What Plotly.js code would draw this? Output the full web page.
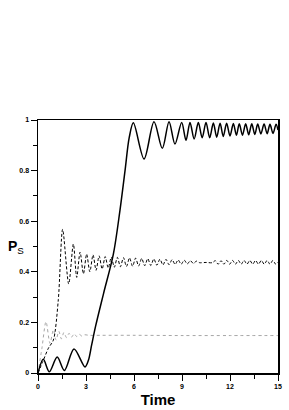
<!DOCTYPE html>
<html>
<head>
<meta charset="utf-8">
<script src="https://cdn.plot.ly/plotly-3.0.1.min.js"></script>
<style>html,body{margin:0;padding:0;background:#fff;}#chart{width:289px;height:410px;}</style>
</head>
<body>
<div id="chart"></div>
<script>
// Solid curve (extrema)
var solidT = [0, 0.33, 0.71, 1.2, 1.65, 2.25, 2.94, 3.15, 3.35, 3.6, 4.1, 4.71, 5.125, 5.44, 5.7, 5.96, 6.63, 7.25, 7.77, 8.19, 8.56, 8.98, 9.25, 9.5, 9.76, 10.02, 10.26, 10.5, 10.73, 10.96, 11.17, 11.38, 11.58, 11.79, 12.0, 12.21, 12.4, 12.58, 12.78, 12.98, 13.17, 13.36, 13.55, 13.73, 13.93, 14.13, 14.32, 14.5, 14.69, 14.88, 15];
var solidP = [0, 0.054, 0.005, 0.063, 0.01, 0.095, 0.024, 0.05, 0.11, 0.185, 0.315, 0.47, 0.644, 0.8, 0.93, 0.989, 0.846, 0.993, 0.888, 0.993, 0.905, 0.99, 0.92, 0.99, 0.925, 0.99, 0.93, 0.99, 0.93, 0.988, 0.932, 0.987, 0.935, 0.987, 0.937, 0.986, 0.94, 0.985, 0.94, 0.985, 0.942, 0.985, 0.943, 0.984, 0.945, 0.984, 0.946, 0.983, 0.947, 0.983, 0.96];

// Dashed curve
var dashT = [0, 0.3, 0.65, 0.96, 1.27, 1.54, 1.92, 2.21, 2.42, 2.63, 2.84, 3.04, 3.24, 3.44, 3.63, 3.82, 4.01, 4.2, 4.39, 4.58, 4.77, 4.96, 5.15, 5.34, 5.53, 5.72, 5.91, 6.1, 6.29, 6.48, 6.67, 6.86, 7.05, 7.24, 7.43, 7.62, 7.81, 8.0, 8.19, 8.38, 8.57, 8.76, 8.95, 9.14, 9.33, 9.52, 9.71, 9.9, 10.1, 10.5, 10.9, 11.08, 11.26, 11.44, 11.62, 11.8, 11.98, 12.16, 12.34, 12.52, 12.7, 12.88, 13.06, 13.24, 13.42, 13.6, 13.78, 13.96, 14.14, 14.32, 14.5, 14.68, 14.86, 15];
var dashP = [0, 0.045, 0.098, 0.13, 0.29, 0.568, 0.352, 0.51, 0.378, 0.478, 0.392, 0.47, 0.40, 0.467, 0.406, 0.463, 0.411, 0.46, 0.415, 0.458, 0.418, 0.457, 0.42, 0.456, 0.421, 0.455, 0.422, 0.454, 0.423, 0.453, 0.424, 0.452, 0.425, 0.451, 0.426, 0.45, 0.427, 0.449, 0.428, 0.448, 0.429, 0.447, 0.43, 0.446, 0.431, 0.444, 0.433, 0.442, 0.436, 0.437, 0.436, 0.444, 0.43, 0.444, 0.43, 0.445, 0.43, 0.445, 0.43, 0.445, 0.43, 0.445, 0.43, 0.445, 0.43, 0.445, 0.43, 0.445, 0.43, 0.445, 0.43, 0.445, 0.43, 0.438];

// Gray dotted curve
var dotT = [0, 0.25, 0.5, 0.75, 0.96, 1.13, 1.3, 1.46, 1.62, 1.78, 1.94, 2.1, 2.26, 2.42, 2.58, 2.74, 2.9, 3.2, 4, 6, 9, 12, 15];
var dotP = [0, 0.1, 0.203, 0.117, 0.17, 0.13, 0.165, 0.135, 0.16, 0.14, 0.157, 0.142, 0.155, 0.144, 0.153, 0.146, 0.151, 0.149, 0.149, 0.149, 0.148, 0.148, 0.148];

var xTickVals = [0, 3, 6, 9, 12, 15];
var xTickText = ['0', '3', '6', '9', '12', '15'];
var yTickVals = [0, 0.2, 0.4, 0.6, 0.8, 1];
var yTickText = ['0', '0.2', '0.4', '0.6', '0.8', '1'];

var tickFont = {family: 'Liberation Sans, Arial, sans-serif', size: 7, weight: 'bold', color: '#000'};

var traces = [
  {x: dotT, y: dotP, mode: 'lines', line: {color: '#a6a6a6', width: 1, dash: 'dot', shape: 'spline', smoothing: 0.8}, hoverinfo: 'skip'},
  {x: dashT, y: dashP, mode: 'lines', line: {color: '#000', width: 1, dash: '3px,2px', shape: 'spline', smoothing: 0.8}, hoverinfo: 'skip'},
  {x: solidT, y: solidP, mode: 'lines', line: {color: '#000', width: 1.5, shape: 'spline', smoothing: 0.9}, hoverinfo: 'skip'}
];

var layout = {
  width: 289, height: 410,
  margin: {l: 38, r: 11, t: 120, b: 37, pad: 0},
  paper_bgcolor: '#fff', plot_bgcolor: '#fff',
  showlegend: false,
  xaxis: {
    range: [0, 15], showgrid: false, zeroline: false,
    showline: true, linecolor: '#000', linewidth: 1.5, mirror: true,
    tickmode: 'array', tickvals: xTickVals, ticktext: xTickText,
    ticks: 'outside', ticklen: 6, tickwidth: 1, tickcolor: '#000',
    minor: {ticks: 'outside', dtick: 1.5, ticklen: 4, tickwidth: 1, tickcolor: '#000', showgrid: false},
    tickfont: tickFont,
    title: {text: 'Time', font: {family: 'Liberation Sans, Arial, sans-serif', size: 15, weight: 'bold', color: '#000'}, standoff: 5}
  },
  yaxis: {
    range: [0, 1], showgrid: false, zeroline: false,
    showline: true, linecolor: '#000', linewidth: 1.5, mirror: true,
    tickmode: 'array', tickvals: yTickVals, ticktext: yTickText,
    ticks: 'outside', ticklen: 6, tickwidth: 1, tickcolor: '#000',
    minor: {ticks: 'outside', dtick: 0.1, ticklen: 4, tickwidth: 1, tickcolor: '#000', showgrid: false},
    tickfont: tickFont
  },
  annotations: [{
    text: '<b>P</b><sub>S</sub>', xref: 'paper', yref: 'paper',
    x: -0.135, y: 0.5, xanchor: 'left', yanchor: 'middle', showarrow: false,
    font: {family: 'Liberation Sans, Arial, sans-serif', size: 14, color: '#000'}
  }]
};

Plotly.newPlot('chart', traces, layout, {staticPlot: true, displayModeBar: false});
</script>
</body>
</html>
